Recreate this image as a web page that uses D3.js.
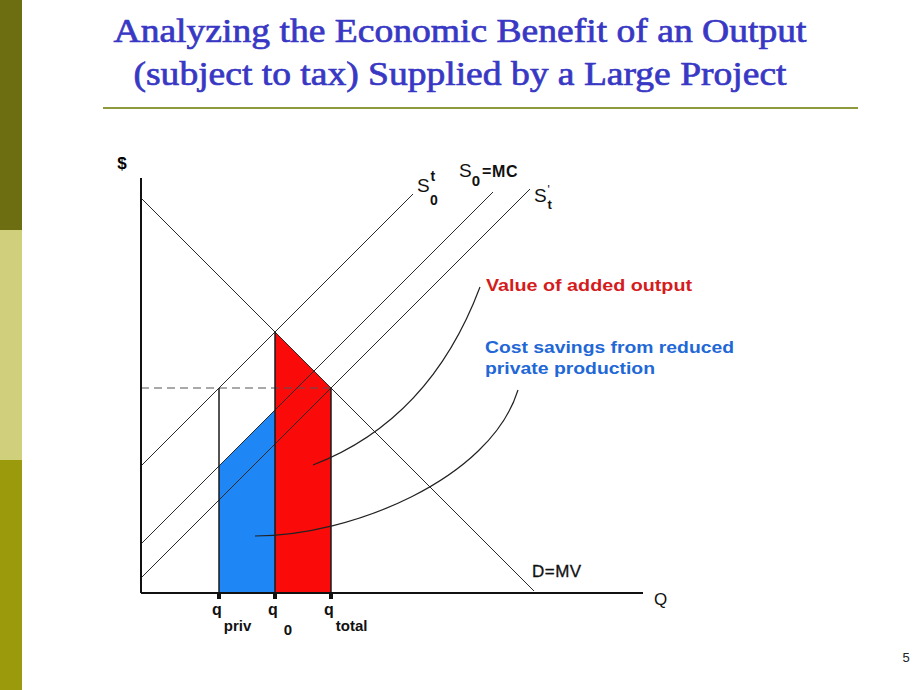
<!DOCTYPE html>
<html>
<head>
<meta charset="utf-8">
<script src="https://cdn.jsdelivr.net/npm/d3@7"></script>
<style>
  html, body { margin: 0; padding: 0; background: #ffffff; }
  svg { display: block; }
</style>
</head>
<body>
<script>
// ---------- data (economic units: Q on x, price on y) ----------
const titleLines = ["Analyzing the Economic Benefit of an Output", "(subject to tax) Supplied by a Large Project"];
const demandIntercept = 79;           // D = MV : P = 79 - Q
const qLabels = [
  { name: "q", sub: "priv",  q: 15.6 },
  { name: "q", sub: "0",     q: 26.8 },
  { name: "q", sub: "total", q: 38.0 }
];
// supply curves: P = a + Q, drawn from Q=0 to qEnd
const supplyNames   = ["S0t", "S0=MC", "St'"];
const supplyOffsets = [25.4, 9.8, 3.0];
const supplyEndQ    = [54.4, 70.4, 77.8];
const demandEndQ    = 78.6;
const dashedPrice   = 41;             // price level at q_total
// annotation texts
const redNote  = ["Value of added output"];
const blueNote = ["Cost savings from reduced", "private production"];
// leader curves (data units): [start, control(s)..., end]
const leaderRed  = [[34.4, 25.6], [57.8, 34.6], [67.8, 61.2]];
const leaderBlue = [[22.8, 11.4], [41.8, 11.4], [69.8, 22.6], [75.4, 40.6]];
const pageNumber = "5";
const stripeColors = ["#6d6d12", "#cfcf7c", "#9a9a0c"];

// ---------- drawing ----------
const W = 920, H = 690;
const svg = d3.select("body").append("svg").attr("width", W).attr("height", H);
svg.append("rect").attr("width", W).attr("height", H).attr("fill", "#fff");

// left stripe
const stripeY = d3.scaleBand().domain(d3.range(stripeColors.length)).range([0, H]);
svg.selectAll("rect.stripe").data(stripeColors).join("rect")
  .attr("class", "stripe")
  .attr("x", 0).attr("y", (d, i) => stripeY(i))
  .attr("width", 22).attr("height", stripeY.bandwidth())
  .attr("fill", d => d);

// title
const titleWidths = [693, 653];
svg.selectAll("text.title").data(titleLines).join("text")
  .attr("class", "title")
  .attr("x", 460).attr("y", (d, i) => 42 + i * 43)
  .attr("text-anchor", "middle")
  .attr("font-family", "'Liberation Serif', 'Times New Roman', serif")
  .attr("font-size", 34)
  .attr("fill", "#3838c4")
  .attr("stroke", "#3838c4").attr("stroke-width", 0.7)
  .attr("textLength", (d, i) => titleWidths[i]).attr("lengthAdjust", "spacingAndGlyphs")
  .text(d => d);
svg.append("line").attr("x1", 103).attr("x2", 858).attr("y1", 108).attr("y2", 108)
  .attr("stroke", "#8f9a3c").attr("stroke-width", 2);

// scales
const x = d3.scaleLinear().domain([0, 100]).range([141, 641]);
const y = d3.scaleLinear().domain([0, 100]).range([593, 93]);

const g = svg.append("g");

// shaded areas
const q0 = qLabels[1].q, qp = qLabels[0].q, qt = qLabels[2].q;
const D = q => demandIntercept - q;
const S = (i, q) => supplyOffsets[i] + q;
const area = d3.line().x(d => x(d[0])).y(d => y(d[1]));
g.append("path")
  .attr("d", area([[qp, 0], [qp, S(1, qp)], [q0, S(1, q0)], [q0, 0]]) + "Z")
  .attr("fill", "#1f86f5");
g.append("path")
  .attr("d", area([[q0, 0], [q0, D(q0)], [qt, D(qt)], [qt, 0]]) + "Z")
  .attr("fill", "#fb0a0a");

// dashed price line
g.append("line")
  .attr("x1", x(0)).attr("x2", x(qt)).attr("y1", y(dashedPrice)).attr("y2", y(dashedPrice))
  .attr("stroke", "#555").attr("stroke-width", 1.2).attr("stroke-dasharray", "8,5");

// supply lines
g.selectAll("line.supply").data(supplyOffsets).join("line")
  .attr("class", "supply")
  .attr("x1", x(0)).attr("y1", (d) => y(d))
  .attr("x2", (d, i) => x(supplyEndQ[i])).attr("y2", (d, i) => y(d + supplyEndQ[i]))
  .attr("stroke", "#2a2a2a").attr("stroke-width", 1);

// demand line
g.append("line")
  .attr("x1", x(0)).attr("y1", y(D(0)))
  .attr("x2", x(demandEndQ)).attr("y2", y(D(demandEndQ)))
  .attr("stroke", "#2a2a2a").attr("stroke-width", 1);

// vertical lines at q's
const vTops = [dashedPrice, D(q0), D(qt)];
g.selectAll("line.vq").data(qLabels).join("line")
  .attr("class", "vq")
  .attr("x1", d => x(d.q)).attr("x2", d => x(d.q))
  .attr("y1", (d, i) => y(vTops[i])).attr("y2", y(0))
  .attr("stroke", "#1a1a1a").attr("stroke-width", 1.5);

// leader curves
const pRed = d3.path();
pRed.moveTo(x(leaderRed[0][0]), y(leaderRed[0][1]));
pRed.quadraticCurveTo(x(leaderRed[1][0]), y(leaderRed[1][1]), x(leaderRed[2][0]), y(leaderRed[2][1]));
g.append("path").attr("d", pRed.toString()).attr("fill", "none").attr("stroke", "#222").attr("stroke-width", 1.2);
const pBlue = d3.path();
pBlue.moveTo(x(leaderBlue[0][0]), y(leaderBlue[0][1]));
pBlue.bezierCurveTo(x(leaderBlue[1][0]), y(leaderBlue[1][1]), x(leaderBlue[2][0]), y(leaderBlue[2][1]), x(leaderBlue[3][0]), y(leaderBlue[3][1]));
g.append("path").attr("d", pBlue.toString()).attr("fill", "none").attr("stroke", "#222").attr("stroke-width", 1.2);

// axes
g.append("line").attr("x1", x(0)).attr("x2", x(0)).attr("y1", y(83)).attr("y2", y(0))
  .attr("stroke", "#111").attr("stroke-width", 2);
g.append("line").attr("x1", x(0)).attr("x2", x(100.4)).attr("y1", y(0)).attr("y2", y(0))
  .attr("stroke", "#111").attr("stroke-width", 2);
// tick marks
g.selectAll("rect.tick").data(qLabels).join("rect")
  .attr("class", "tick")
  .attr("x", d => x(d.q) - 2).attr("y", y(0)).attr("width", 4).attr("height", 6)
  .attr("fill", "#111");

const lblFont = "'Liberation Sans', Arial, sans-serif";
// q labels
const ql = g.selectAll("text.ql").data(qLabels).join("text")
  .attr("class", "ql")
  .attr("x", d => x(d.q) - 7).attr("y", 615)
  .attr("font-family", lblFont).attr("font-weight", "bold").attr("font-size", 16).attr("fill", "#111");
ql.append("tspan").text(d => d.name);
ql.append("tspan")
  .attr("dx", d => d.sub === "0" ? 6 : 2)
  .attr("dy", d => d.sub === "0" ? 20 : 16)
  .attr("font-size", 15).text(d => d.sub);

// axis titles
g.append("text").attr("x", 122).attr("y", 169).attr("text-anchor", "middle")
  .attr("font-family", lblFont).attr("font-weight", "bold").attr("font-size", 17).text("$");
g.append("text").attr("x", 654).attr("y", 605)
  .attr("font-family", lblFont).attr("font-size", 17).attr("fill", "#111").text("Q");
g.append("text").attr("x", 532).attr("y", 577)
  .attr("font-family", lblFont).attr("font-size", 17).attr("fill", "#111")
  .attr("stroke", "#111").attr("stroke-width", 0.3).attr("letter-spacing", 0.5).text("D=MV");

// supply labels
const sl = g.append("g").attr("font-family", lblFont).attr("font-size", 19).attr("fill", "#111");
// S0^t
let t = sl.append("text").attr("x", 417).attr("y", 192);
t.append("tspan").text("S");
t.append("tspan").attr("x", 430.5).attr("y", 181).attr("font-size", 14).attr("font-weight", "bold").text("t");
t.append("tspan").attr("x", 430).attr("y", 205).attr("font-size", 14).attr("font-weight", "bold").text("0");
// S0=MC
t = sl.append("text").attr("x", 459).attr("y", 177);
t.append("tspan").text("S");
t.append("tspan").attr("font-size", 15).attr("font-weight", "bold").attr("dy", 9).attr("dx", 0).text("0");
t.append("tspan").attr("dy", -9).attr("dx", 2).attr("font-weight", "bold").attr("font-size", 16)
  .attr("letter-spacing", 0.6).text("=MC");
// S_t'
t = sl.append("text").attr("x", 534).attr("y", 202);
t.append("tspan").text("S");
t.append("tspan").attr("x", 547.5).attr("y", 194).attr("font-size", 12).text("'");
t.append("tspan").attr("x", 547.5).attr("y", 209).attr("font-size", 13).attr("font-weight", "bold").text("t");

// annotation notes
g.selectAll("text.red").data(redNote).join("text").attr("class", "red")
  .attr("x", 486).attr("y", 291)
  .attr("font-family", lblFont).attr("font-weight", "bold").attr("font-size", 16)
  .attr("fill", "#d41c1c").attr("textLength", 206).attr("lengthAdjust", "spacingAndGlyphs")
  .text(d => d);
g.selectAll("text.blue").data(blueNote).join("text").attr("class", "blue")
  .attr("x", 485).attr("y", (d, i) => 353 + i * 21)
  .attr("font-family", lblFont).attr("font-weight", "bold").attr("font-size", 16)
  .attr("fill", "#2267d6")
  .attr("textLength", (d, i) => i === 0 ? 249 : 170).attr("lengthAdjust", "spacingAndGlyphs")
  .text(d => d);

// page number
svg.append("text").attr("x", 906).attr("y", 662).attr("text-anchor", "middle")
  .attr("font-family", lblFont).attr("font-size", 13).attr("fill", "#222").text(pageNumber);
</script>
</body>
</html>
